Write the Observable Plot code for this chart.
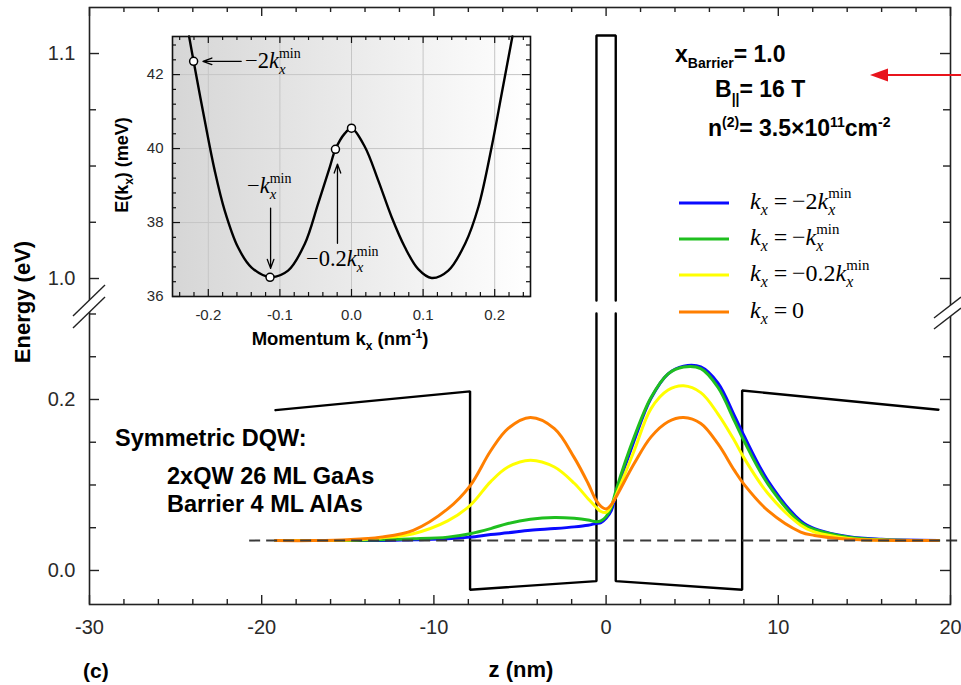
<!DOCTYPE html>
<html><head><meta charset="utf-8">
<script src="https://cdn.jsdelivr.net/npm/d3@7"></script>
<script src="https://cdn.jsdelivr.net/npm/@observablehq/plot@0.6"></script>
<style>
html,body{margin:0;padding:0;background:#fff;}
#wrap{position:relative;width:961px;height:685px;overflow:hidden;background:#fff;}
#wrap svg{position:absolute;}
</style></head><body><div id="wrap"></div>
<script>
// ---------------- DATA ----------------
// Main panel: position z (nm)
const zGrid = [-19.2,-17,-15,-13.1,-11.2,-9.2,-7.9,-6.7,-5.7,-4.4,-3.0,-1.85,-1.05,-0.58,-0.3,0,0.3,0.58,1.63,2.6,3.6,4.5,5.5,6.5,7.45,8.0,9.4,11.3,12.1,14.1,16,19.3];
// wavefunctions (energy offset, eV)
const psiBlue   = [0.035,0.035,0.035,0.035,0.036,0.037,0.039,0.042,0.044,0.047,0.049,0.051,0.053,0.055,0.056,0.061,0.070,0.090,0.152,0.201,0.230,0.239,0.238,0.219,0.181,0.158,0.105,0.058,0.049,0.0394,0.0364,0.035];
const psiGreen  = [0.035,0.035,0.035,0.036,0.037,0.039,0.043,0.049,0.055,0.060,0.062,0.061,0.059,0.057,0.058,0.063,0.074,0.094,0.156,0.202,0.230,0.238,0.236,0.214,0.175,0.152,0.101,0.056,0.048,0.039,0.036,0.035];
const psiYellow = [0.035,0.035,0.0355,0.038,0.043,0.058,0.076,0.104,0.121,0.129,0.121,0.102,0.084,0.074,0.069,0.068,0.076,0.088,0.140,0.189,0.211,0.216,0.208,0.183,0.152,0.132,0.090,0.053,0.045,0.0375,0.0355,0.035];
const psiOrange = [0.035,0.035,0.036,0.039,0.047,0.072,0.099,0.140,0.166,0.179,0.166,0.132,0.102,0.082,0.075,0.072,0.077,0.086,0.125,0.156,0.174,0.179,0.172,0.148,0.117,0.101,0.070,0.045,0.041,0.0365,0.0353,0.035];
const seriesNames  = ["k_x = -2k_min","k_x = -k_min","k_x = -0.2k_min","k_x = 0"];
const seriesColors = ["#0a0aff","#1fbf1f","#ffff00","#ff7f00"];

// conduction band potential profile (eV), segments broken at the axis break
const potZ   = [-19.2,-7.9,-7.9,-0.56,-0.56,  -0.56,-0.56,0.56,0.56,  0.56,0.56,7.9,7.9,19.3];
const potE   = [0.1875,0.2095,-0.0225,-0.0125,0.3006,  0.9902,1.108,1.108,0.9902,  0.3006,-0.0125,-0.0225,0.2105,0.188];
const potSeg = [0,0,0,0,0, 1,1,1,1, 2,2,2,2,2];

// Fermi level (dashed)
const fermiE = 0.035;
const fermiZ = [-20.7, 20.6];

// axis ticks
const xTickVals = [-30,-20,-10,0,10,20];
const xMinorVals = [-28,-26,-24,-22,-18,-16,-14,-12,-8,-6,-4,-2,2,4,6,8,12,14,16,18];
const yTickE = [0.0, 0.2, 1.0, 1.1];
const yTickLabels = ["0.0","0.2","1.0","1.1"];
const yMinorE = [0.05,0.1,0.15,0.25,0.3,1.025,1.05,1.075];

// Inset: dispersion E(kx)
const insetK = [-0.2268,-0.2205,-0.2051,-0.1911,-0.1772,-0.1585,-0.1399,-0.1138,-0.0886,-0.0653,-0.0466,-0.0303,-0.0224,-0.0093,0,0.0186,0.0373,0.056,0.0746,0.0932,0.1119,0.1352,0.1585,0.1772,0.1958,0.2098,0.2247];
const insetE = [43.03,42.36,40.77,39.41,38.33,37.33,36.79,36.53,36.70,37.42,38.51,39.50,39.98,40.41,40.55,40.05,39.14,38.15,37.33,36.74,36.50,36.70,37.42,38.42,40.05,41.49,43.03];
const markK = [-0.2205,-0.1138,-0.0224,0];
const markE = [42.36,36.52,39.98,40.55];
const arrowK1 = [-0.154,-0.113,-0.0196];
const arrowE1 = [42.36,38.39,37.44];
const arrowK2 = [-0.2075,-0.113,-0.0196];
const arrowE2 = [42.36,36.76,39.58];
const insetXTicks = [-0.2,-0.1,0,0.1,0.2];
const insetXMinor = [-0.24,-0.22,-0.18,-0.16,-0.14,-0.12,-0.08,-0.06,-0.04,-0.02,0.02,0.04,0.06,0.08,0.12,0.14,0.16,0.18,0.22,0.24];
const insetYTicks = [36,38,40,42];
const insetYMinor = [36.4,36.8,37.2,37.6,38.4,38.8,39.2,39.6,40.4,40.8,41.2,41.6,42.4,42.8];
const insetGridY = [38,40,42];

// ---------------- LAYOUT ----------------
const SANS = "'Liberation Sans', Arial, Helvetica, sans-serif";
const SERIF = "'Liberation Serif', 'Times New Roman', serif";
const W = 961, H = 685, mL = 89, mR = 11, mT = 7, mB = 81;
const FW = W - mL - mR, FH = H - mT - mB;
// broken energy axis: lower part in eV, upper part stretched
const f = E => E < 0.5 ? E : 0.3415 + (E - 1.0) * 2.6316;
const yTickV = yTickE.map(f);
const labelFor = v => { let b = 0; yTickV.forEach((t, i) => { if (Math.abs(t - v) < Math.abs(yTickV[b] - v)) b = i; }); return yTickLabels[b]; };

const potRows = potZ.map((z, i) => ({z, E: f(potE[i]), seg: potSeg[i]}));
const waves = [psiBlue, psiGreen, psiYellow, psiOrange].map((vals, s) =>
  zGrid.map((z, i) => ({z, E: f(vals[i]), s})));

const tickStyle = {stroke: "#222", strokeWidth: 1.4};
const main = Plot.plot({
  width: W, height: H, marginLeft: mL, marginRight: mR, marginTop: mT, marginBottom: mB,
  style: {fontFamily: SANS, fontSize: "20px", color: "#2a2a2a", background: "transparent"},
  x: {domain: [-30, 20], ticks: xTickVals, tickFormat: d => String(d), tickSize: 0, tickPadding: 15, label: null},
  y: {domain: [-0.0398, 0.6585], ticks: yTickV, tickFormat: labelFor, tickSize: 0, tickPadding: 14, label: null},
  marks: [
    Plot.tickX(xTickVals, {x: d => d, insetTop: FH - 9, ...tickStyle}),
    Plot.tickX(xMinorVals, {x: d => d, insetTop: FH - 5, ...tickStyle}),
    Plot.tickX(xTickVals, {x: d => d, insetBottom: FH - 9, ...tickStyle}),
    Plot.tickX(xMinorVals, {x: d => d, insetBottom: FH - 5, ...tickStyle}),
    Plot.tickY(yTickV, {y: d => d, insetRight: FW - 10, ...tickStyle}),
    Plot.tickY(yMinorE.map(f), {y: d => d, insetRight: FW - 7, ...tickStyle}),
    Plot.tickY(yTickV, {y: d => d, insetLeft: FW - 10, ...tickStyle}),
    Plot.tickY(yMinorE.map(f), {y: d => d, insetLeft: FW - 7, ...tickStyle}),
    Plot.line(potRows, {x: "z", y: "E", z: "seg", stroke: "#000", strokeWidth: 2.4, strokeLinejoin: "miter"}),
    ...waves.map((rows, s) => Plot.line(rows, {x: "z", y: "E", stroke: seriesColors[s], strokeWidth: 3, curve: "catmull-rom"})),
    Plot.ruleY([f(fermiE)], {x1: fermiZ[0], x2: fermiZ[1], stroke: "#3a3a3a", strokeWidth: 2, strokeDasharray: "11,6"}),
    Plot.frame({stroke: "#222", strokeWidth: 1.6})
  ]
});
main.style.left = "0px"; main.style.top = "0px";
document.getElementById("wrap").appendChild(main);

// ---------------- INSET ----------------
const insetRows = insetK.map((k, i) => ({k, E: insetE[i]}));
const markRows = markK.map((k, i) => ({k, E: markE[i]}));
const arrowRows = arrowK1.map((k, i) => ({k1: k, E1: arrowE1[i], k2: arrowK2[i], E2: arrowE2[i]}));
const IW = 440, IH = 330, iL = 72, iR = 10, iT = 6, iB = 64;
const IFW = IW - iL - iR, IFH = IH - iT - iB;
const itk = {stroke: "#111", strokeWidth: 1.2};
const inset = Plot.plot({
  width: IW, height: IH, marginLeft: iL, marginRight: iR, marginTop: iT, marginBottom: iB,
  style: {fontFamily: SANS, fontSize: "15px", color: "#2a2a2a", background: "transparent", overflow: "visible"},
  x: {domain: [-0.25, 0.25], ticks: insetXTicks, tickFormat: d => d.toFixed(1), tickSize: 0, tickPadding: 13, label: null},
  y: {domain: [36, 43.03], ticks: insetYTicks, tickFormat: d => String(d), tickSize: 0, tickPadding: 9, label: null},
  marks: [
    Plot.frame({fill: "url(#insetGrad)"}),
    Plot.ruleX(insetXTicks, {x: d => d, stroke: "#c6c6c6", strokeWidth: 1}),
    Plot.ruleY(insetGridY, {y: d => d, stroke: "#c6c6c6", strokeWidth: 1}),
    Plot.tickX(insetXTicks, {x: d => d, insetTop: IFH - 7, ...itk}),
    Plot.tickX(insetXMinor, {x: d => d, insetTop: IFH - 4, ...itk}),
    Plot.tickX(insetXTicks, {x: d => d, insetBottom: IFH - 7, ...itk}),
    Plot.tickX(insetXMinor, {x: d => d, insetBottom: IFH - 4, ...itk}),
    Plot.tickY(insetYTicks, {y: d => d, insetRight: IFW - 8, ...itk}),
    Plot.tickY(insetYMinor, {y: d => d, insetRight: IFW - 4, ...itk}),
    Plot.tickY(insetYTicks, {y: d => d, insetLeft: IFW - 8, ...itk}),
    Plot.tickY(insetYMinor, {y: d => d, insetLeft: IFW - 4, ...itk}),
    Plot.line(insetRows, {x: "k", y: "E", curve: "catmull-rom", stroke: "#000", strokeWidth: 2.4}),
    Plot.arrow(arrowRows, {x1: "k1", y1: "E1", x2: "k2", y2: "E2", stroke: "#000", strokeWidth: 1.3, headLength: 11, headAngle: 40}),
    Plot.dot(markRows, {x: "k", y: "E", r: 4, fill: "#fff", stroke: "#000", strokeWidth: 1.5}),
    Plot.frame({stroke: "#111", strokeWidth: 1.6})
  ]
});
inset.style.left = "100px"; inset.style.top = "30px";
document.getElementById("wrap").appendChild(inset);
const grad = d3.select(inset).insert("defs", ":first-child").append("linearGradient")
  .attr("id", "insetGrad").attr("x1", 0).attr("y1", 0).attr("x2", 1).attr("y2", 0);
grad.append("stop").attr("offset", 0).attr("stop-color", "#d6d6d6");
grad.append("stop").attr("offset", 1).attr("stop-color", "#ffffff");

// ---------------- TEXT HELPERS ----------------
function rich(sel, x, y, parts, o = {}) {
  const t = sel.append("text").attr("x", x).attr("y", y)
    .attr("font-family", o.family || SANS).attr("font-size", o.size || 20)
    .attr("font-weight", o.weight || "normal").attr("fill", o.fill || "#000")
    .attr("text-anchor", o.anchor || "start").style("white-space", "pre");
  if (o.rotate) t.attr("transform", `rotate(${o.rotate} ${x} ${y})`);
  let cur = 0;
  for (const p of parts) {
    const s = t.append("tspan").text(p.t);
    const sh = p.shift || 0;
    if (sh !== cur) { s.attr("dy", sh - cur); cur = sh; }
    if (p.dx) s.attr("dx", p.dx);
    if (p.size) s.attr("font-size", p.size);
    if (p.italic) s.attr("font-style", "italic");
    if (p.weight) s.attr("font-weight", p.weight);
  }
  return t;
}
const K = s => ({t: "k", italic: true});
const X = s => ({t: "x", italic: true, size: s * 0.66, shift: s * 0.26});
const MIN = s => ({t: "min", size: s * 0.62, shift: -s * 0.46, dx: -s * 0.66 * 0.444});

const ms = d3.select(main);
// axis titles
rich(ms, 30, 302, [{t: "Energy (eV)"}], {size: 22, weight: "bold", anchor: "middle", rotate: -90});
rich(ms, 521, 677, [{t: "z (nm)"}], {size: 22, weight: "bold", anchor: "middle"});
rich(ms, 83, 678, [{t: "(c)"}], {size: 21, weight: "bold"});
// structure description
rich(ms, 115, 446, [{t: "Symmetric DQW:"}], {size: 23.5, weight: "bold"});
rich(ms, 167, 484, [{t: "2xQW 26 ML GaAs"}], {size: 23.5, weight: "bold"});
rich(ms, 167, 512, [{t: "Barrier 4 ML AlAs"}], {size: 23.5, weight: "bold"});
// parameters
rich(ms, 675, 62, [{t: "x"}, {t: "Barrier", size: 14, shift: 6}, {t: "= 1.0"}], {size: 23, weight: "bold"});
rich(ms, 715, 97, [{t: "B"}, {t: "||", size: 14, shift: 7}, {t: "= 16 T"}], {size: 23, weight: "bold"});
rich(ms, 708, 136, [{t: "n"}, {t: "(2)", size: 14, shift: -9}, {t: "= 3.5×10"}, {t: "11", size: 14, shift: -9}, {t: "cm"}, {t: "-2", size: 14, shift: -9}], {size: 23, weight: "bold"});
// red arrow
ms.append("line").attr("x1", 884).attr("y1", 75).attr("x2", 961).attr("y2", 75).attr("stroke", "#e8141c").attr("stroke-width", 2.2);
ms.append("path").attr("d", "M870,75L888,68.5L888,81.5Z").attr("fill", "#e8141c");
// legend
const legY = [203, 239, 275, 312];
const LS = 24;
const legParts = [
  [K(LS), X(LS), {t: " =\u2009\u22122"}, K(LS), X(LS), MIN(LS)],
  [K(LS), X(LS), {t: " =\u2009\u2212"}, K(LS), X(LS), MIN(LS)],
  [K(LS), X(LS), {t: " =\u2009\u22120.2"}, K(LS), X(LS), MIN(LS)],
  [K(LS), X(LS), {t: " =\u20090"}]
];
legY.forEach((y, i) => {
  ms.append("line").attr("x1", 679).attr("x2", 729).attr("y1", y).attr("y2", y)
    .attr("stroke", seriesColors[i]).attr("stroke-width", 3).append("title").text(seriesNames[i]);
  rich(ms, 750, y + 6, legParts[i], {family: SERIF, size: LS});
});
// axis break marks
function brk(x1, y1, x2, y2, gap) {
  ms.append("path").attr("d", `M${x1},${y1}L${x2},${y2}L${x2},${y2 + gap}L${x1},${y1 + gap}Z`).attr("fill", "#fff");
  ms.append("line").attr("x1", x1).attr("y1", y1).attr("x2", x2).attr("y2", y2).attr("stroke", "#222").attr("stroke-width", 1.4);
  ms.append("line").attr("x1", x1).attr("y1", y1 + gap).attr("x2", x2).attr("y2", y2 + gap).attr("stroke", "#222").attr("stroke-width", 1.4);
}
brk(73, 316, 105, 285, 12);
brk(934, 318, 961, 297, 11);

// inset text
const is = d3.select(inset);
rich(is, 28, 135, [{t: "E(k"}, {t: "x", size: 12, shift: 5}, {t: ") (meV)"}], {size: 18, weight: "bold", anchor: "middle", rotate: -90});
rich(is, 240, 315, [{t: "Momentum k"}, {t: "x", size: 12, shift: 5}, {t: " (nm"}, {t: "-1", size: 12, shift: -7}, {t: ")"}], {size: 18.5, weight: "bold", anchor: "middle"});
const AS = 22.5;
rich(is, 145, 38, [{t: "\u22122"}, K(AS), X(AS), MIN(AS)], {family: SERIF, size: AS});
rich(is, 147, 163, [{t: "\u2212"}, K(AS), X(AS), MIN(AS)], {family: SERIF, size: AS});
rich(is, 206, 236, [{t: "\u22120.2"}, K(AS), X(AS), MIN(AS)], {family: SERIF, size: AS});
</script>
</body></html>
